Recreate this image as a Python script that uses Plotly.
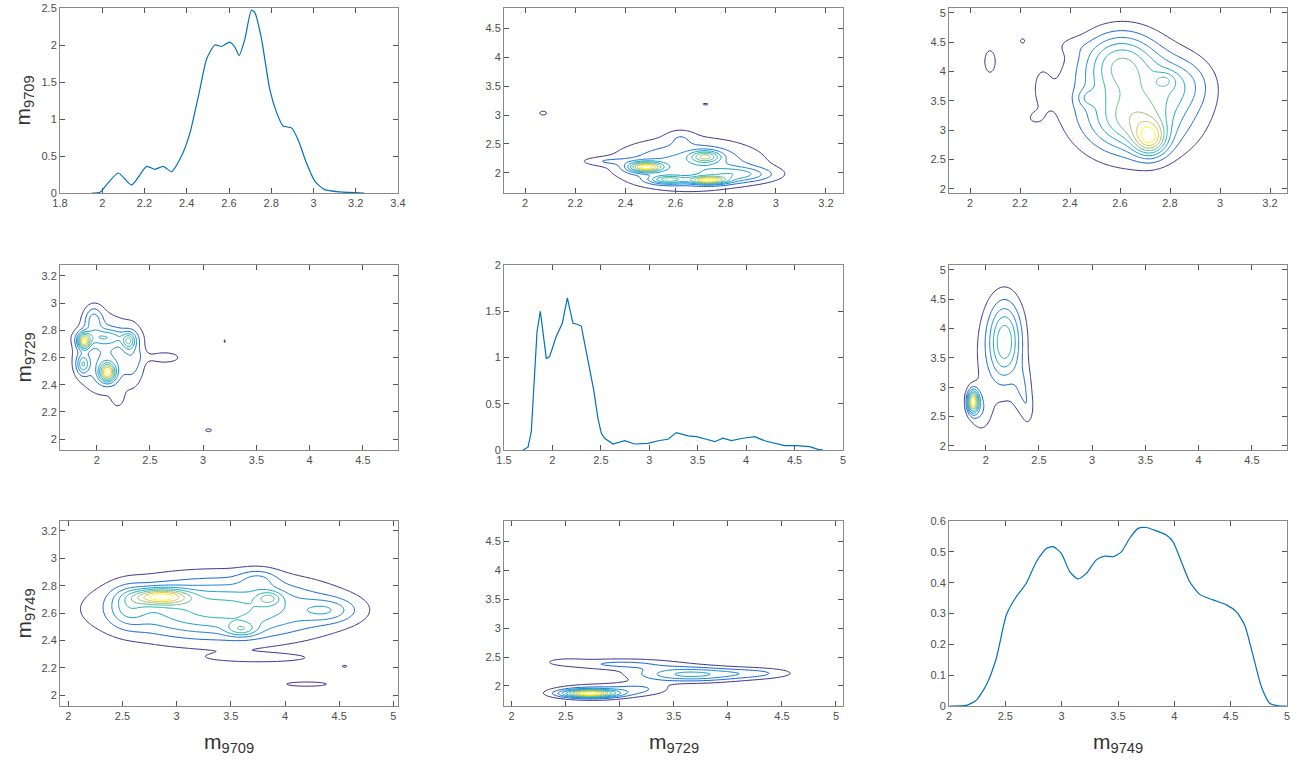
import numpy as np
import plotly.graph_objects as go

# ---------------- data: 1-D marginal densities ----------------
m9709_x = [1.95, 1.989, 2.02, 2.076, 2.139, 2.21, 2.249, 2.289, 2.328, 2.375, 2.415, 2.462, 2.494,
           2.533, 2.565, 2.604, 2.628, 2.648, 2.675, 2.706, 2.722, 2.754, 2.793, 2.825, 2.856,
           2.896, 2.927, 2.966, 3.006, 3.053, 3.124, 3.24]
m9709_d = [0.0, 0.01, 0.11, 0.27, 0.11, 0.36, 0.32, 0.36, 0.29, 0.5, 0.81, 1.4, 1.81,
           2.0, 1.98, 2.04, 1.97, 1.86, 2.08, 2.47, 2.44, 2.08, 1.40, 1.09, 0.905,
           0.88, 0.72, 0.41, 0.16, 0.045, 0.014, 0.0]

m9729_x = [1.696, 1.748, 1.782, 1.841, 1.875, 1.937, 1.971, 2.04, 2.102, 2.154, 2.212, 2.254, 2.298,
           2.367, 2.426, 2.47, 2.505, 2.539, 2.625, 2.746, 2.849, 2.987, 3.09, 3.193, 3.279, 3.4,
           3.486, 3.589, 3.675, 3.761, 3.847, 3.967, 4.088, 4.19, 4.31, 4.397, 4.518, 4.655,
           4.741, 4.793]
m9729_d = [0.0, 0.03, 0.2, 1.28, 1.5, 0.99, 1.01, 1.23, 1.37, 1.645, 1.37, 1.36, 1.34,
           0.98, 0.65, 0.34, 0.18, 0.127, 0.065, 0.10, 0.065, 0.072, 0.10, 0.116, 0.188, 0.152,
           0.145, 0.116, 0.09, 0.127, 0.101, 0.127, 0.145, 0.10, 0.072, 0.047, 0.047, 0.036,
           0.007, 0.0]

m9749_x = [2.006, 2.154, 2.243, 2.331, 2.42, 2.509, 2.598, 2.686, 2.775, 2.864, 2.923, 2.997, 3.071,
           3.145, 3.219, 3.308, 3.382, 3.456, 3.53, 3.604, 3.678, 3.751, 3.84, 3.929, 3.988,
           4.062, 4.136, 4.225, 4.343, 4.462, 4.55, 4.624, 4.698, 4.772, 4.846, 4.935, 4.994]
m9749_d = [0.0, 0.002, 0.019, 0.068, 0.155, 0.295, 0.355, 0.398, 0.468, 0.511, 0.517, 0.495, 0.436,
           0.412, 0.43, 0.474, 0.486, 0.484, 0.50, 0.544, 0.576, 0.579, 0.568, 0.555, 0.533,
           0.468, 0.403, 0.362, 0.344, 0.328, 0.306, 0.263, 0.165, 0.063, 0.009, 0.0, 0.0]

# ---------------- data: 2-D density modes (cx, cy, sx, sy, weight) ----------------
modes_r1c2 = [(2.48, 2.10, 0.045, 0.06, 0.75), (2.73, 1.87, 0.05, 0.045, 0.7), (2.72, 2.28, 0.04, 0.07, 0.45),
              (2.57, 1.88, 0.05, 0.05, 0.45), (2.65, 2.15, 0.2, 0.3, 0.35), (2.85, 1.97, 0.1, 0.09, 0.3),
              (2.32, 2.2, 0.07, 0.05, 0.12), (2.62, 2.62, 0.04, 0.1, 0.1)]
islands_r1c2 = [(2.072, 3.035, 0.02, 0.05, 0.125), (2.72, 3.19, 0.018, 0.02, 0.12)]

modes_r1c3 = [(2.66, 3.45, 0.17, 0.6, 0.45), (2.72, 2.85, 0.045, 0.2, 0.5), (2.65, 3.1, 0.1, 0.3, 0.2),
              (2.47, 3.55, 0.03, 0.1, 0.12), (2.78, 3.85, 0.03, 0.1, 0.14), (2.6, 4.2, 0.1, 0.35, 0.35),
              (2.85, 3.8, 0.08, 0.3, 0.15), (2.28, 3.75, 0.04, 0.45, 0.07), (2.25, 3.2, 0.03, 0.1, 0.05),
              (2.4, 4.45, 0.05, 0.12, 0.05)]
islands_r1c3 = [(2.08, 4.17, 0.025, 0.22, 0.14), (2.21, 4.52, 0.012, 0.05, 0.12)]

modes_r2c1 = [(1.88, 2.72, 0.04, 0.04, 0.7), (2.1, 2.49, 0.05, 0.045, 0.75), (2.3, 2.72, 0.04, 0.04, 0.35),
              (1.87, 2.55, 0.04, 0.05, 0.35), (2.08, 2.75, 0.15, 0.04, 0.25), (2.08, 2.62, 0.2, 0.2, 0.3),
              (1.97, 2.88, 0.06, 0.07, 0.25), (2.35, 2.62, 0.07, 0.15, 0.15), (2.65, 2.6, 0.12, 0.035, 0.15),
              (2.2, 2.3, 0.04, 0.05, 0.1)]
islands_r2c1 = [(3.2, 2.72, 0.012, 0.02, 0.12), (3.05, 2.065, 0.04, 0.014, 0.13)]

modes_r2c3 = [(1.88, 2.75, 0.035, 0.13, 0.9), (2.18, 3.7, 0.1, 0.4, 0.35), (2.18, 4.05, 0.12, 0.45, 0.2),
              (2.35, 2.95, 0.06, 0.3, 0.15), (2.1, 3.4, 0.2, 0.7, 0.12), (2.4, 2.6, 0.04, 0.2, 0.1),
              (1.95, 2.6, 0.07, 0.25, 0.15)]
islands_r2c3 = []

modes_r3c1 = [(2.85, 2.72, 0.17, 0.04, 0.6), (3.4, 2.63, 0.7, 0.16, 0.5), (3.85, 2.71, 0.08, 0.035, 0.25),
              (3.6, 2.48, 0.1, 0.035, 0.25), (4.4, 2.62, 0.18, 0.06, 0.2), (2.55, 2.65, 0.12, 0.1, 0.2),
              (3.75, 2.85, 0.12, 0.05, 0.15)]
islands_r3c1 = [(3.8, 2.27, 0.45, 0.03, 0.11), (4.2, 2.08, 0.3, 0.025, 0.12), (4.55, 2.21, 0.03, 0.01, 0.12)]

modes_r3c2 = [(2.72, 1.87, 0.17, 0.045, 0.75), (3.65, 2.2, 0.35, 0.09, 0.4), (3.0, 2.38, 0.4, 0.07, 0.2),
              (4.3, 2.22, 0.25, 0.07, 0.15), (2.5, 2.42, 0.12, 0.04, 0.1), (3.2, 1.95, 0.2, 0.08, 0.15),
              (2.75, 1.9, 0.3, 0.1, 0.2)]
islands_r3c2 = []

# axis ranges of each panel (numbered row by row)
xr = {1: [1.8, 3.4], 2: [1.916, 3.268], 3: [1.916, 3.268],
      4: [1.655, 4.83], 5: [1.5, 5.0], 6: [1.655, 4.83],
      7: [1.923, 5.043], 8: [1.929, 5.065], 9: [2.0, 5.0]}
yr = {1: [0, 2.5], 2: [1.65, 4.857], 3: [1.93, 5.08],
      4: [1.92, 3.28], 5: [0, 2.0], 6: [1.927, 5.085],
      7: [1.92, 3.273], 8: [1.655, 4.845], 9: [0, 0.6]}
xdt = {1: 0.2, 2: 0.2, 3: 0.2, 4: 0.5, 5: 0.5, 6: 0.5, 7: 0.5, 8: 0.5, 9: 0.5}
ydt = {1: 0.5, 2: 0.5, 3: 0.5, 4: 0.2, 5: 0.5, 6: 0.5, 7: 0.2, 8: 0.5, 9: 0.1}

labels = ["m<sub>9709</sub>", "m<sub>9729</sub>", "m<sub>9749</sub>"]

parula = [[0.0, "#352a87"], [0.143, "#0363e1"], [0.286, "#1485d4"], [0.429, "#06a7c6"],
          [0.571, "#38b99e"], [0.714, "#92bf73"], [0.857, "#d9ba56"], [0.93, "#fcce2e"],
          [1.0, "#f9fb0e"]]
line_blue = "#0072BD"


def gauss_sum(modes, X, Y):
    Z = np.zeros_like(X)
    for cx, cy, sx, sy, w in modes:
        Z += w * np.exp(-0.5 * ((X - cx) / sx) ** 2 - 0.5 * ((Y - cy) / sy) ** 2)
    return Z


def density(modes, islands, xrange, yrange, n=200):
    xs = np.linspace(xrange[0], xrange[1], n)
    ys = np.linspace(yrange[0], yrange[1], n)
    X, Y = np.meshgrid(xs, ys)
    Z = gauss_sum(modes, X, Y)
    Z = Z / Z.max() + gauss_sum(islands, X, Y)
    return xs, ys, Z


fig = go.Figure()

W, H = 1303, 765
col_px = [(60, 398), (504, 843), (949, 1287)]   # window pixels
row_px = [(8, 193), (265, 450), (521, 706)]


def fx(px):
    return px / W


def fy(py):
    return 1 - py / H


def ax_name(k, kind):
    return kind if k == 1 else f"{kind}{k}"


contour_data = {2: (modes_r1c2, islands_r1c2), 3: (modes_r1c3, islands_r1c3),
                4: (modes_r2c1, islands_r2c1), 6: (modes_r2c3, islands_r2c3),
                7: (modes_r3c1, islands_r3c1), 8: (modes_r3c2, islands_r3c2)}
diag = {1: (m9709_x, m9709_d, "spline"), 5: (m9729_x, m9729_d, "linear"), 9: (m9749_x, m9749_d, "spline")}

for k in range(1, 10):
    xa = "x" if k == 1 else f"x{k}"
    ya = "y" if k == 1 else f"y{k}"
    if k in diag:
        xv, yv, shape = diag[k]
        fig.add_trace(go.Scatter(x=xv, y=yv, mode="lines",
                                 line=dict(color=line_blue, width=1.2, shape=shape, smoothing=0.6),
                                 xaxis=xa, yaxis=ya, showlegend=False, hoverinfo="skip"))
    else:
        modes, isl = contour_data[k]
        xs, ys, Z = density(modes, isl, xr[k], yr[k])
        fig.add_trace(go.Contour(x=xs, y=ys, z=Z, xaxis=xa, yaxis=ya,
                                 contours=dict(start=0.1, end=0.9, size=0.1, coloring="lines"),
                                 colorscale=parula, zmin=0.1, zmax=0.9, zauto=False,
                                 line=dict(width=1), showscale=False, hoverinfo="skip"))

axis_common = dict(showgrid=False, zeroline=False, showline=True, linecolor="#8a8a8a", linewidth=1,
                   mirror="ticks", ticks="inside", ticklen=5, tickwidth=1, tickcolor="#555555",
                   automargin=False,
                   tickfont=dict(family="Liberation Sans, Arial, sans-serif", size=11, color="#4d4d4d"))

layout = dict(width=W, height=H, margin=dict(l=0, r=0, t=0, b=0, pad=0, autoexpand=False),
              paper_bgcolor="white", plot_bgcolor="white", showlegend=False)
for k in range(1, 10):
    r, c = (k - 1) // 3, (k - 1) % 3
    x0, x1 = col_px[c]
    y0, y1 = row_px[r]
    xa = "x" if k == 1 else f"x{k}"
    ya = "y" if k == 1 else f"y{k}"
    layout[ax_name(k, "xaxis")] = dict(axis_common, domain=[fx(x0), fx(x1)], range=xr[k],
                                       dtick=xdt[k], tick0=0, anchor=ya)
    layout[ax_name(k, "yaxis")] = dict(axis_common, domain=[fy(y1), fy(y0)], range=yr[k],
                                       dtick=ydt[k], tick0=0, anchor=xa)

fig.update_layout(**layout)

ann = []
title_font = dict(family="Liberation Sans, Arial, sans-serif", size=21, color="#333333")
for r in range(3):
    y0, y1 = row_px[r]
    ann.append(dict(text=labels[r], x=fx(24), y=fy((y0 + y1) / 2), xref="paper", yref="paper",
                    showarrow=False, textangle=-90, font=title_font, xanchor="center", yanchor="middle"))
for c in range(3):
    x0, x1 = col_px[c]
    ann.append(dict(text=labels[c], x=fx((x0 + x1) / 2), y=fy(743), xref="paper", yref="paper",
                    showarrow=False, font=title_font, xanchor="center", yanchor="middle"))
fig.update_layout(annotations=ann)

fig.write_html("out.html", config={"displayModeBar": False},
               post_script="document.body.style.margin='0px';document.body.style.overflow='hidden';")
